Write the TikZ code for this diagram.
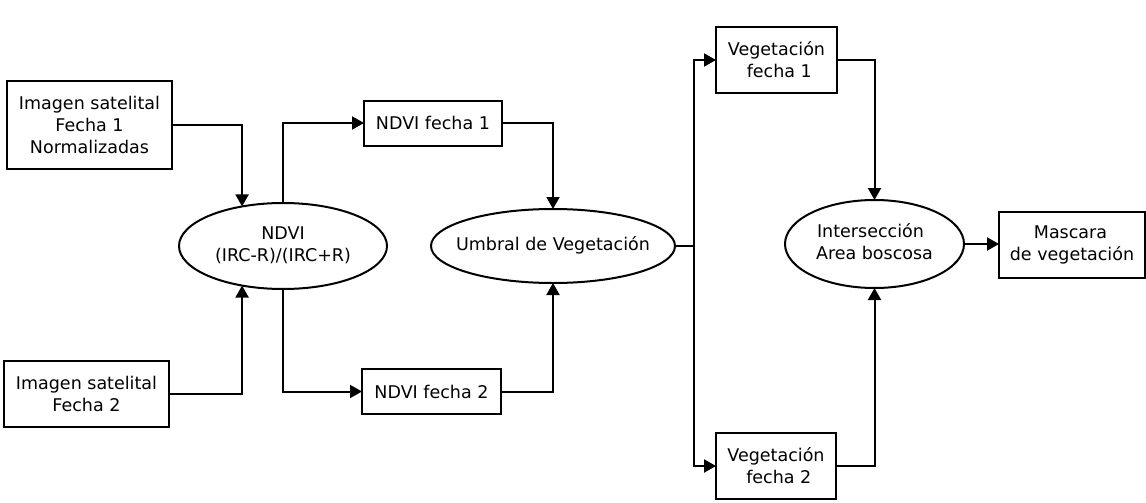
\documentclass[tikz,border=0pt]{standalone}
\usepackage{fontspec}
\setmainfont{DejaVu Sans}
\usetikzlibrary{shapes.geometric,arrows.meta}
\newcommand{\ovtext}[1]{\makebox[0pt][c]{\begin{tabular}{@{}c@{}}#1\end{tabular}}}
\tikzset{
  base/.style={draw, line width=2pt, inner sep=0pt, outer sep=0pt, align=center,
    font=\fontsize{17.5}{22}\selectfont},
  box/.style={base, rectangle},
  oval/.style={base, ellipse},
  arr/.style={line width=2pt, -{Triangle[length=12pt,width=13pt]}},
  ln/.style={line width=2pt}
}
\begin{document}
\begin{tikzpicture}[x=1pt,y=-1pt]
\useasboundingbox (0,0) rectangle (1146,503);
\node[box, minimum width=165pt, minimum height=88pt] (A) at (89.5,125) {Imagen satelital\\Fecha 1\\Normalizadas};
\node[box, minimum width=165pt, minimum height=66pt] (B) at (86.5,394) {Imagen satelital\\Fecha 2};
\node[oval, minimum width=208pt, minimum height=86pt] (ndvi) at (283,246) {\ovtext{NDVI\\(IRC-R)/(IRC+R)}};
\node[box, minimum width=138pt, minimum height=45pt] (n1) at (433,123) {NDVI fecha 1};
\node[box, minimum width=139pt, minimum height=45pt] (n2) at (431.5,391.5) {NDVI fecha 2};
\node[oval, minimum width=244pt, minimum height=74pt] (umbral) at (553,246) {\ovtext{Umbral de Vegetación}};
\node[box, minimum width=121pt, minimum height=66pt] (v1) at (776.5,60) {Vegetación\\\hspace*{5.6pt}fecha 1};
\node[box, minimum width=120pt, minimum height=66pt] (v2) at (776,466) {Vegetación\\\hspace*{5.6pt}fecha 2};
\node[oval, minimum width=179pt, minimum height=88pt] (inter) at (874.5,244) {\ovtext{Intersección\hspace*{8pt}\\Area boscosa}};
\node[box, minimum width=146pt, minimum height=66pt] (mask) at (1072,244.5) {Mascara\hspace*{3pt}\\de vegetación};
\coordinate (split) at (694,246);
\draw[arr] (A.east) -| (ndvi.136);
\draw[arr] (B.east) -| (ndvi.-136);
\draw[arr] (ndvi.north) |- (n1.west);
\draw[arr] (ndvi.south) |- (n2.west);
\draw[arr] (n1.east) -| (umbral.north);
\draw[arr] (n2.east) -| (umbral.south);
\draw[ln] (umbral.east) -- (split);
\draw[arr] (split) |- (v1.west);
\draw[arr] (split) |- (v2.west);
\draw[arr] (v1.east) -| (inter.north);
\draw[arr] (v2.east) -| (inter.south);
\draw[arr] (inter.east) -- (inter.east -| mask.west);
\end{tikzpicture}
\end{document}
